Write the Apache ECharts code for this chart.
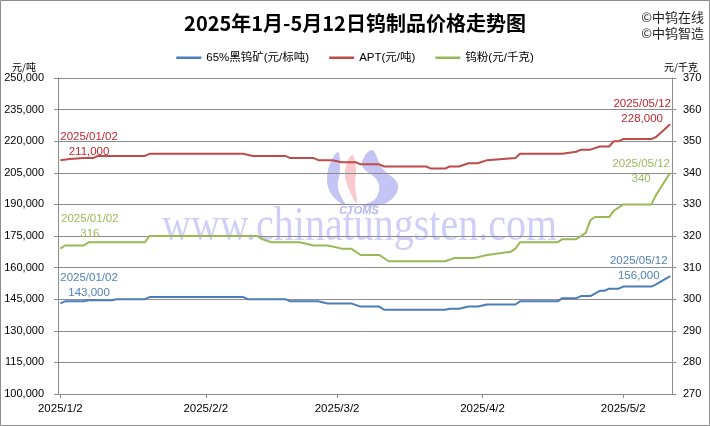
<!DOCTYPE html>
<html><head><meta charset="utf-8">
<script src="https://cdn.jsdelivr.net/npm/echarts@6/dist/echarts.min.js"></script>
<style>html,body{margin:0;padding:0;background:#fff}#c{width:710px;height:426px}</style>
</head><body><div id="c"></div>
<script>
const titleText = '2025年1月-5月12日钨制品价格走势图';
const seriesNames = ['65%黑钨矿(元/标吨)', 'APT(元/吨)', '钨粉(元/千克)'];
const startDate = '2025/1/2', endDate = '2025/5/12';
const xTickLabels = ['2025/1/2', '2025/2/2', '2025/3/2', '2025/4/2', '2025/5/2'];
const leftAxis = { min: 100000, max: 250000, interval: 15000 };
const rightAxis = { min: 270, max: 370, interval: 10 };

const oreDates = ['2025/1/2','2025/1/3','2025/1/7','2025/1/8','2025/1/13','2025/1/14','2025/1/20','2025/1/21','2025/2/10','2025/2/11','2025/2/19','2025/2/20','2025/2/26','2025/2/28','2025/3/5','2025/3/7','2025/3/11','2025/3/12','2025/3/25','2025/3/26','2025/3/28','2025/3/30','2025/4/1','2025/4/3','2025/4/9','2025/4/10','2025/4/18','2025/4/19','2025/4/22','2025/4/23','2025/4/25','2025/4/27','2025/4/28','2025/4/29','2025/5/1','2025/5/2','2025/5/8','2025/5/9','2025/5/12'];
const oreValues = [143000,144000,144000,144500,144500,145000,145000,146000,146000,145000,145000,144000,144000,143000,143000,141500,141500,140000,140000,140500,140500,141500,141500,142500,142500,144000,144000,145500,145500,146500,146500,149000,149000,150000,150000,151000,151000,152000,156000];

const aptDates = ['2025/1/2','2025/1/4','2025/1/7','2025/1/9','2025/1/10','2025/1/20','2025/1/21','2025/2/10','2025/2/12','2025/2/19','2025/2/20','2025/2/25','2025/2/26','2025/3/1','2025/3/3','2025/3/6','2025/3/7','2025/3/11','2025/3/12','2025/3/21','2025/3/22','2025/3/25','2025/3/26','2025/3/28','2025/3/30','2025/4/1','2025/4/3','2025/4/9','2025/4/10','2025/4/19','2025/4/22','2025/4/23','2025/4/25','2025/4/27','2025/4/29','2025/4/30','2025/5/1','2025/5/2','2025/5/8','2025/5/9','2025/5/12'];
const aptValues = [211000,211500,212000,212000,213000,213000,214000,214000,213000,213000,212000,212000,211000,211000,210000,210000,209000,209000,208000,208000,207000,207000,208000,208000,209500,209500,211000,212000,214000,214000,215000,216000,216000,217500,217500,220000,220000,221000,221000,222000,228000];

const powderDates = ['2025/1/2','2025/1/3','2025/1/7','2025/1/8','2025/1/20','2025/1/21','2025/2/13','2025/2/14','2025/2/16','2025/2/22','2025/2/25','2025/2/28','2025/3/3','2025/3/5','2025/3/7','2025/3/11','2025/3/13','2025/3/25','2025/3/27','2025/3/31','2025/4/3','2025/4/8','2025/4/9','2025/4/10','2025/4/18','2025/4/19','2025/4/22','2025/4/23','2025/4/24','2025/4/25','2025/4/26','2025/4/29','2025/4/30','2025/5/2','2025/5/8','2025/5/9','2025/5/12'];
const powderValues = [316,317,317,318,318,320,320,319,318,318,317,317,316,316,314,314,312,312,313,313,314,315,316,318,318,319,319,320,321,325,326,326,328,330,330,333,340];

const colors = ['#4A7EBB', '#BE4B48', '#98B954'];
const labelColors = ['#4F81BD', '#C0272D', '#9BBB59'];

function buildDays(s, e) {
  const a = s.split('/').map(Number), b = e.split('/').map(Number);
  let t = Date.UTC(a[0], a[1]-1, a[2]); const end = Date.UTC(b[0], b[1]-1, b[2]);
  const out = [];
  while (t <= end) { const d = new Date(t); out.push(d.getUTCFullYear()+'/'+(d.getUTCMonth()+1)+'/'+d.getUTCDate()); t += 86400000; }
  return out;
}
const days = buildDays(startDate, endDate);
function fmt(n) { return String(n).replace(/\B(?=(\d{3})+(?!\d))/g, ','); }
function padDate(s) { const p = s.split('/'); return p[0]+'/'+p[1].padStart(2,'0')+'/'+p[2].padStart(2,'0'); }
function pairs(dates, vals) { return dates.map((d, i) => [days.indexOf(d), vals[i]]); }

const FONT = '"Liberation Sans", "Noto Sans CJK SC", sans-serif';
const CJK = '"Noto Sans CJK SC", sans-serif';
const GRID = '#8C8C8C';

function endLabels(dates, vals, idx, offStart, offEnd) {
  const n = dates.length - 1;
  const mk = (i, off) => ({
    coord: [days.indexOf(dates[i]), vals[i]],
    label: { show: true, position: 'inside', offset: off, formatter: padDate(dates[i]) + '\n' + fmt(vals[i]),
      color: labelColors[idx], fontSize: 11.5, lineHeight: 15, fontFamily: FONT, align: 'center', verticalAlign: 'middle' }
  });
  return { symbol: 'circle', symbolSize: 1, itemStyle: { color: 'rgba(0,0,0,0)' }, silent: true, animation: false,
    data: [mk(0, offStart), mk(n, offEnd)] };
}

function isTick(i, v) { return xTickLabels.indexOf(v) >= 0; }

const chart = echarts.init(document.getElementById('c'), null, { renderer: 'canvas' });
chart.setOption({
  animation: false,
  backgroundColor: '#fff',
  title: { text: titleText, left: 'center', top: 8,
    textStyle: { fontSize: 20, fontWeight: 'bold', color: '#000', fontFamily: CJK } },
  legend: { top: 47, left: 'center', itemWidth: 25, itemHeight: 2.5, icon: 'rect', itemGap: 20,
    data: seriesNames, textStyle: { fontSize: 11.5, color: '#000', fontFamily: FONT } },
  grid: { left: 58, right: 37.5, top: 78, bottom: 32, containLabel: false },
  xAxis: { type: 'category', data: days, boundaryGap: true,
    axisLine: { lineStyle: { color: GRID } },
    axisTick: { show: true, alignWithLabel: true, interval: isTick, length: 4, lineStyle: { color: GRID } },
    axisLabel: { interval: isTick, color: '#000', fontSize: 11.5, margin: 9, fontFamily: FONT, hideOverlap: false },
    splitLine: { show: false } },
  yAxis: [
    { type: 'value', position: 'left', min: leftAxis.min, max: leftAxis.max, interval: leftAxis.interval,
      axisLine: { show: true, lineStyle: { color: GRID } },
      axisTick: { show: true, length: 4, lineStyle: { color: GRID } },
      axisLabel: { formatter: fmt, color: '#000', fontSize: 11, margin: 14, fontFamily: FONT },
      splitLine: { show: true, lineStyle: { color: GRID, width: 1 } } },
    { type: 'value', position: 'right', min: rightAxis.min, max: rightAxis.max, interval: rightAxis.interval,
      axisLine: { show: true, lineStyle: { color: GRID } },
      axisTick: { show: true, length: 4, lineStyle: { color: GRID } },
      axisLabel: { color: '#000', fontSize: 11, margin: 10.5, fontFamily: FONT },
      splitLine: { show: false } }
  ],
  graphic: [
    { type: 'rect', z: -10, shape: { x: 0.5, y: 0.5, width: 709, height: 425 }, style: { fill: 'none', stroke: '#8C8C8C', lineWidth: 1 } },
    { type: 'text', x: 24, y: 67, style: { text: '元/吨', font: '10px ' + CJK, fill: '#000', align: 'center', verticalAlign: 'middle' } },
    { type: 'text', x: 681, y: 67, style: { text: '元/千克', font: '10px ' + CJK, fill: '#000', align: 'center', verticalAlign: 'middle' } },
    { type: 'text', x: 704, y: 17, style: { text: '©中钨在线', font: '13px ' + CJK, fill: '#222', align: 'right', verticalAlign: 'middle' } },
    { type: 'text', x: 704, y: 33, style: { text: '©中钨智造', font: '13px ' + CJK, fill: '#222', align: 'right', verticalAlign: 'middle' } },
    { type: 'text', z: -1, x: 162, y: 251, scaleY: 1.2, style: { text: 'www.chinatungsten.com', font: '40px "Liberation Serif", serif', fill: 'rgba(120,120,235,0.36)', align: 'left', verticalAlign: 'bottom' } },
    { type: 'polygon', z: -1, shape: { smooth: 0.4, points: [[338,152],[328,170],[330,192],[345,205],[338,188],[340,170]] }, style: { fill: 'rgba(110,110,230,0.4)' } },
    { type: 'polygon', z: -1, shape: { smooth: 0.4, points: [[352,155],[345,172],[350,192],[357,203],[355,185],[356,168]] }, style: { fill: 'rgba(240,120,130,0.4)' } },
    { type: 'polygon', z: -1, shape: { smooth: 0.4, points: [[372,150],[362,165],[378,182],[376,198],[362,206],[388,202],[398,185],[382,168]] }, style: { fill: 'rgba(110,110,230,0.4)' } },
    { type: 'text', z: -1, x: 359, y: 211, style: { text: 'CTOMS', font: 'italic bold 11px "Liberation Sans", sans-serif', fill: 'rgba(110,110,230,0.5)', align: 'center', verticalAlign: 'middle' } }
  ],
  series: [
    { name: seriesNames[0], type: 'line', yAxisIndex: 0, data: pairs(oreDates, oreValues), symbol: 'none', showSymbol: false,
      lineStyle: { color: colors[0], width: 2 }, itemStyle: { color: colors[0] }, z: 3,
      markPoint: endLabels(oreDates, oreValues, 0, [28.7, -18], [-31.4, -7.2]) },
    { name: seriesNames[1], type: 'line', yAxisIndex: 0, data: pairs(aptDates, aptValues), symbol: 'none', showSymbol: false,
      lineStyle: { color: colors[1], width: 2 }, itemStyle: { color: colors[1] }, z: 3,
      markPoint: endLabels(aptDates, aptValues, 1, [28.7, -15.7], [-28, -12.7]) },
    { name: seriesNames[2], type: 'line', yAxisIndex: 1, data: pairs(powderDates, powderValues), symbol: 'none', showSymbol: false,
      lineStyle: { color: colors[2], width: 2 }, itemStyle: { color: colors[2] }, z: 3,
      markPoint: endLabels(powderDates, powderValues, 2, [29.5, -22.6], [-29, -1]) }
  ]
});
</script></body></html>
